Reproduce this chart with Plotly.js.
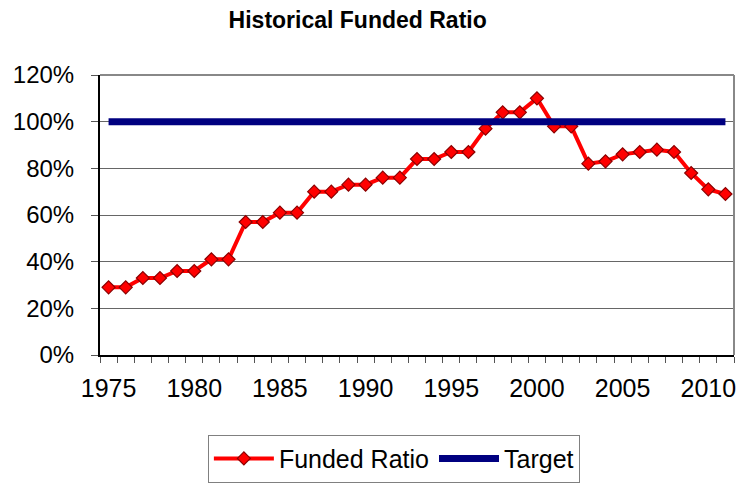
<!DOCTYPE html>
<html>
<head>
<meta charset="utf-8">
<script src="https://cdn.plot.ly/plotly-3.0.1.min.js"></script>
<style>html,body{margin:0;padding:0;background:#fff;}#chart{width:739px;height:483px;}</style>
</head>
<body>
<div id="chart"></div>
<script>
var years = [1975,1976,1977,1978,1979,1980,1981,1982,1983,1984,1985,1986,1987,1988,1989,1990,1991,1992,1993,1994,1995,1996,1997,1998,1999,2000,2001,2002,2003,2004,2005,2006,2007,2008,2009,2010,2011];
var fundedRatio = [29,29,33,33,36,36,41,41,57,57,61,61,70,70,73,73,76,76,84,84,87,87,97,104,104,110,98,98,82,83,86,87,88,87,78,71,69];
var target = [100,100,100,100,100,100,100,100,100,100,100,100,100,100,100,100,100,100,100,100,100,100,100,100,100,100,100,100,100,100,100,100,100,100,100,100,100];
var xTickVals = [1975,1980,1985,1990,1995,2000,2005,2010];
var xTickText = ['1975','1980','1985','1990','1995','2000','2005','2010'];
var yTickVals = [0,20,40,60,80,100,120];
var yTickText = ['0%','20%','40%','60%','80%','100%','120%'];

var font = 'Liberation Sans, Arial, sans-serif';
var traces = [
  {x: years, y: fundedRatio, name: 'Funded Ratio', type: 'scatter', mode: 'lines+markers',
   line: {color: '#FF0000', width: 4},
   marker: {symbol: 'diamond', size: 10, color: '#FF0000', line: {color: '#8B0000', width: 1.2}}},
  {x: years, y: target, name: 'Target', type: 'scatter', mode: 'lines',
   line: {color: '#000080', width: 7}}
];
var layout = {
  width: 739, height: 483,
  margin: {l: 100, r: 5, t: 75, b: 128},
  paper_bgcolor: '#fff', plot_bgcolor: '#fff',
  font: {family: font, color: '#000', size: 25},
  title: {text: '<b>Historical Funded Ratio</b>', x: 0.484, xref: 'container', xanchor: 'center', y: 0.958, yref: 'container', yanchor: 'middle', font: {size: 23, family: font}},
  showlegend: true,
  legend: {orientation: 'h', xref: 'container', x: 0.533, xanchor: 'center', yref: 'container', y: 0.1, yanchor: 'top',
    bordercolor: '#808080', borderwidth: 1, font: {size: 25}, itemwidth: 60},
  xaxis: {range: [1974.5, 2011.5], tickvals: xTickVals, ticktext: xTickText, showgrid: false, zeroline: false,
    showline: true, linecolor: '#000', linewidth: 2, ticks: '', ticklabelstandoff: 10,
    minor: {ticks: 'outside', tick0: 1974.5, dtick: 1, ticklen: 6, tickcolor: '#555', tickwidth: 1, showgrid: false},
    tickfont: {size: 25}},
  yaxis: {range: [0, 120], tickvals: yTickVals, ticktext: yTickText, showgrid: true, gridcolor: '#666', gridwidth: 1,
    zeroline: false, showline: true, linecolor: '#000', linewidth: 2, ticks: 'outside', ticklen: 7, tickcolor: '#555',
    ticklabelstandoff: 12, tickfont: {size: 24}},
  shapes: [
    {type: 'line', xref: 'paper', yref: 'paper', x0: 0, x1: 1, y0: 1, y1: 1, line: {color: '#888', width: 2}},
    {type: 'line', xref: 'paper', yref: 'paper', x0: 1, x1: 1, y0: 0, y1: 1, line: {color: '#888', width: 2}}
  ]
};
Plotly.newPlot('chart', traces, layout, {displayModeBar: false, staticPlot: true});
</script>
</body>
</html>
